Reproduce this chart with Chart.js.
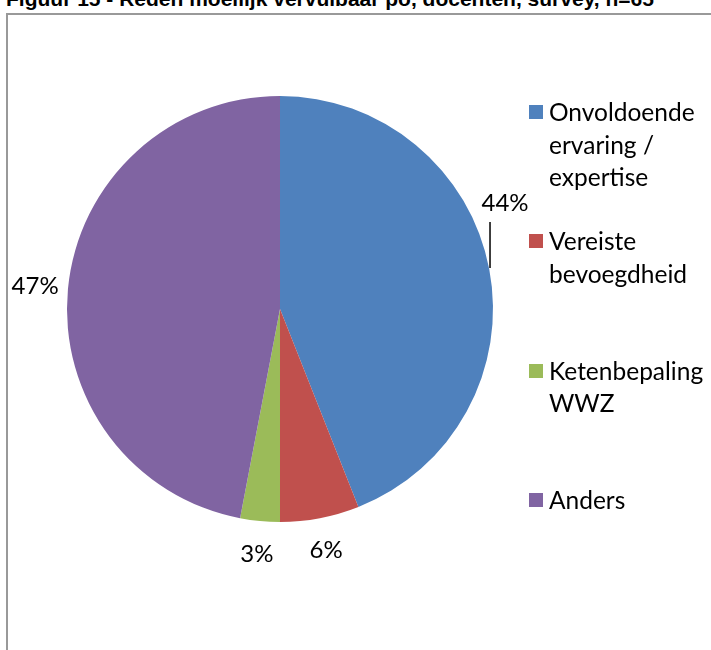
<!DOCTYPE html>
<html>
<head>
<meta charset="utf-8">
<script src="https://cdn.jsdelivr.net/npm/chart.js@4/dist/chart.umd.min.js"></script>
<style>
  body { margin: 0; background: #fff; width: 711px; height: 650px; overflow: hidden; position: relative; }
  #title { position: absolute; left: 6px; top: -13px; font: bold 21px "Liberation Sans", Arial, sans-serif; line-height: 24px; color: #000; white-space: nowrap; }
  #frame { position: absolute; left: 6px; top: 13px; width: 720px; height: 660px; border-left: 2px solid #999; border-top: 2px solid #999; background: #fff; }
  #chart { position: absolute; left: 0; top: 0; }
  .item { position: absolute; left: 529px; font: 24.5px Lato, sans-serif; line-height: 32.5px; color: #000; }
  .item span.box { position: absolute; left: 0; top: 9px; width: 14px; height: 14px; }
  .item div { margin-left: 20px; }
</style>
</head>
<body>
<div id="title">Figuur 15 - Reden moeilijk vervulbaar po, docenten, survey, n=65</div>
<div id="frame"></div>
<canvas id="chart" width="711" height="650"></canvas>
<div id="legend"></div>
<script>
// REDEN MOEILIJK VERVULBAAR - PIE
const categories = [["Onvoldoende", "ervaring /", "expertise"], ["Vereiste", "bevoegdheid"], ["Ketenbepaling", "WWZ"], ["Anders"]];
const percents = [44, 6, 3, 47];
const colors = ["#4F81BD", "#C0504D", "#9BBB59", "#8064A2"];

// legend as html
const legend = document.getElementById("legend");
categories.forEach(function(lines, i) {
    const item = document.createElement("div");
    item.className = "item";
    item.style.top = (96 + i * 129.3) + "px";
    item.innerHTML = '<span class="box" style="background:' + colors[i] + '"></span><div>' + lines.join("<br>") + "</div>";
    legend.appendChild(item);
});

// percentage labels outside the slices
const pctLabels = {
    id: "pctLabels",
    afterDatasetsDraw: function(chart) {
        const ctx = chart.ctx;
        const arcs = chart.getDatasetMeta(0).data;
        ctx.save();
        ctx.font = "24px Lato, sans-serif";
        ctx.fillStyle = "#000";
        ctx.textAlign = "center";
        ctx.textBaseline = "middle";
        arcs.forEach(function(arc, i) {
            const p = arc.getProps(["x", "y", "startAngle", "endAngle", "outerRadius"], true);
            const mid = (p.startAngle + p.endAngle) / 2;
            let lx = p.x + Math.cos(mid) * (p.outerRadius + 33);
            let ly = p.y + Math.sin(mid) * (p.outerRadius + 33);
            if (i === 0) {
                // label was dragged up in the original, with a leader line
                lx = p.x + 225;
                ly = p.y - 106;
                const ex = p.x + Math.sqrt(p.outerRadius * p.outerRadius - 41 * 41);
                ctx.strokeStyle = "#000";
                ctx.lineWidth = 1.5;
                ctx.beginPath();
                ctx.moveTo(ex + 1, p.y - 41);
                ctx.lineTo(ex + 1, ly + 19);
                ctx.stroke();
            }
            ctx.fillText(percents[i] + "%", lx, ly);
        });
        ctx.restore();
    }
};

new Chart("chart", {
    type: "pie",
    data: {
        labels: categories.map(function(l) { return l.join(" "); }),
        datasets: [
            {
                data: percents,
                backgroundColor: colors,
                borderWidth: 0
            }
        ]
    },
    options: {
        responsive: false,
        animation: false,
        layout: { padding: { left: 67, top: 96, right: 218, bottom: 128 } },
        plugins: {
            legend: { display: false },
            tooltip: { enabled: false }
        }
    },
    plugins: [pctLabels]
});
</script>
</body>
</html>
